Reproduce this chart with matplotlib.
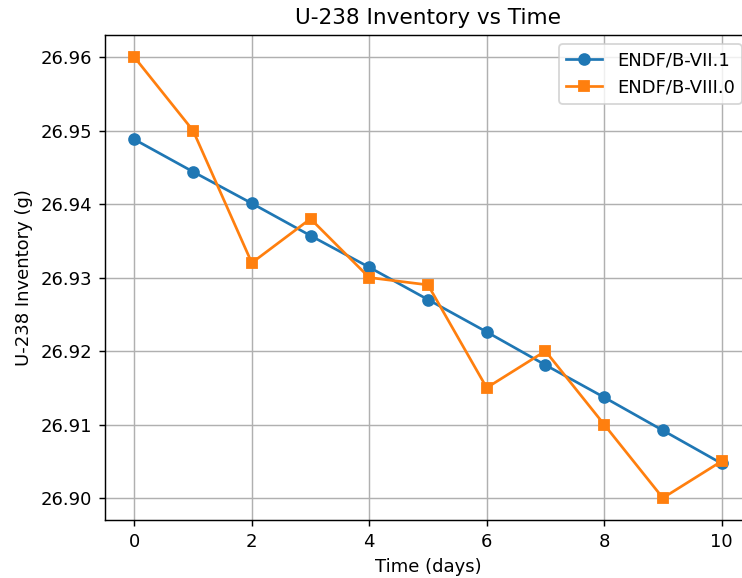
import matplotlib.pyplot as plt

# Inventory values
days = [0, 1, 2, 3, 4, 5, 6, 7, 8, 9, 10]
u238_b71 = [26.9488, 26.9444, 26.9401, 26.9357, 26.9314, 26.9270,
            26.9226, 26.9181, 26.9137, 26.9092, 26.9047]
u238_b80 = [26.960, 26.950, 26.932, 26.938, 26.930, 26.929,
            26.915, 26.920, 26.910, 26.900, 26.905]

# reference looks rendered at ~1.3x scale, so use dpi 130 on a smaller figure
fig = plt.figure(figsize=(7.43 / 1.3, 5.78 / 1.3), dpi=130)
# the reference is clipped on the right, so the axes run past the figure edge
ax = fig.add_axes([0.1413, 0.1003, 0.8694, 0.839])

ax.plot(days, u238_b71, marker='o', label='ENDF/B-VII.1')
ax.plot(days, u238_b80, marker='s', label='ENDF/B-VIII.0')

ax.set_xlabel('Time (days)')
ax.set_ylabel('U-238 Inventory (g)')
ax.set_title('U-238 Inventory vs Time')
ax.legend(loc='upper right')
ax.grid(True)

fig.savefig('out.png', dpi=130)
